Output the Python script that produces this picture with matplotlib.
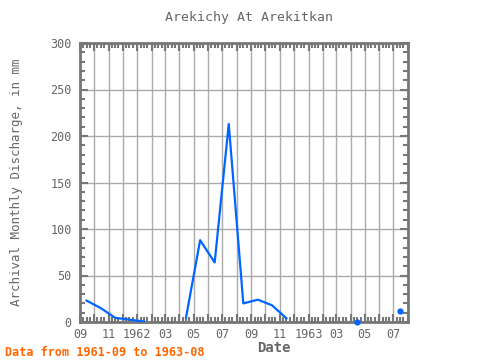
import datetime as dt
import numpy as np
import matplotlib
matplotlib.use("Agg")
import matplotlib.pyplot as plt
import matplotlib.dates as mdates
from matplotlib.ticker import MultipleLocator, FuncFormatter

TITLE = "Arekichy At Arekitkan"
YLABEL = "Archival Monthly Discharge, in mm"
XLABEL = "Date"
FOOTER = "Data from 1961-09 to 1963-08"

# monthly values, 1961-09 .. 1963-07 (nan = missing)
months = ["1961-09", "1961-10", "1961-11", "1961-12", "1962-01", "1962-02",
          "1962-03", "1962-04", "1962-05", "1962-06", "1962-07", "1962-08",
          "1962-09", "1962-10", "1962-11", "1962-12", "1963-01", "1963-02",
          "1963-03", "1963-04", "1963-05", "1963-06", "1963-07"]
discharge = [23, 15, 4.5, 2.5, 0.5, np.nan,
             np.nan, 5, 88, 64, 213, 20,
             24, 18, 4, np.nan, np.nan, np.nan,
             np.nan, 0.3, np.nan, np.nan, 12]

dates = [dt.datetime.strptime(m + "-15", "%Y-%m-%d") for m in months]

GRAY = "#666666"
FRAME = "#777777"
BLUE = "#0066ff"
MONO = "DejaVu Sans Mono"

fig = plt.figure(figsize=(4.8, 3.6), dpi=100)
ax = fig.add_axes([80 / 480, 1 - 322 / 360, 328 / 480, 279 / 360])

ax.plot(dates, discharge, color=BLUE, lw=1.6, zorder=3)

# points with no neighbour get a dot
v = np.array(discharge, dtype=float)
prev = np.r_[np.nan, v[:-1]]
nxt = np.r_[v[1:], np.nan]
lone = ~np.isnan(v) & np.isnan(prev) & np.isnan(nxt)
ax.plot([d for d, f in zip(dates, lone) if f], v[lone], ls="none",
        marker="o", ms=3.5, color=BLUE, zorder=4, clip_on=False)

ax.set_xlim(dt.datetime(1961, 9, 1), dt.datetime(1963, 8, 1))
ax.set_ylim(0, 300)

ax.xaxis.set_major_locator(mdates.MonthLocator())
ax.xaxis.set_minor_locator(mdates.DayLocator(bymonthday=[8, 15, 22]))


def month_label(x, pos):
    d = mdates.num2date(x)
    if d.month % 2 == 0:
        return ""
    if d.month == 1:
        return str(d.year)
    return "%02d" % d.month


ax.xaxis.set_major_formatter(FuncFormatter(month_label))
ax.yaxis.set_major_locator(MultipleLocator(50))
ax.yaxis.set_minor_locator(MultipleLocator(10))

ax.grid(True, which="major", color="#aaaaaa", lw=1)
ax.set_axisbelow(True)

ax.tick_params(which="both", direction="in", top=True, right=True,
               color=FRAME, labelcolor=GRAY, labelsize=8.5)
ax.tick_params(which="major", length=6, width=1.5, pad=4)
ax.tick_params(which="minor", length=3.5, width=1.5)
ax.tick_params(axis="y", which="major", pad=6)
for lab in ax.get_xticklabels() + ax.get_yticklabels():
    lab.set_family(MONO)
for sp in ax.spines.values():
    sp.set_color(FRAME)
    sp.set_linewidth(2)

fig.text(249 / 480, 1 - 17 / 360, TITLE, ha="center", va="center",
         family=MONO, fontsize=9.5, color=GRAY)
fig.text(17 / 480, 1 - 182 / 360, YLABEL, ha="center", va="center",
         rotation=90, family=MONO, fontsize=9, color=GRAY)
fig.text(274 / 480, 1 - 348 / 360, XLABEL, ha="center", va="center",
         family=MONO, fontsize=10, color=GRAY, weight="bold")
fig.text(5 / 480, 1 - 352 / 360, FOOTER, ha="left", va="center",
         family=MONO, fontsize=8.5, color="#ff6600", weight="bold")

fig.savefig("out.png", dpi=100)
